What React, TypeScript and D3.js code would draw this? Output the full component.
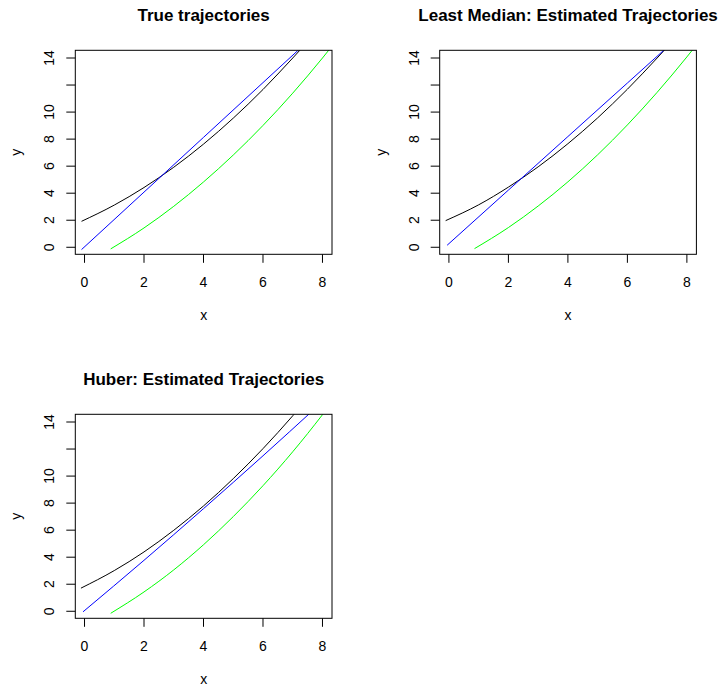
import React from 'react';
import * as d3 from 'd3';

// axis ticks (same for every panel)
const xTicks = [0, 2, 4, 6, 8];
const yTicks = [0, 2, 4, 6, 8, 10, 12, 14];
const yTickLabels = ['0', '2', '4', '6', '8', '10', '', '14'];

// True trajectories
const trueBlackX = [-0.1, 1, 2, 3, 4, 5, 6, 7, 7.5];
const trueBlackY = [1.92, 3.12, 4.42, 5.92, 7.63, 9.55, 11.67, 14.0, 15.2];
const trueBlueX = [-0.1, 2, 4, 6, 7.5];
const trueBlueY = [-0.17, 4.08, 8.13, 12.18, 15.22];
const trueGreenX = [0.88, 2, 3, 4, 5, 6, 7, 8, 8.5];
const trueGreenY = [-0.12, 1.43, 3.03, 4.83, 6.82, 9.01, 11.4, 14.0, 15.37];

// Least Median
const lmBlackX = [-0.11, 1, 2, 3, 4, 5, 6, 7, 7.5];
const lmBlackY = [1.97, 3.14, 4.45, 5.95, 7.66, 9.57, 11.69, 14.0, 15.2];
const lmBlueX = [-0.06, 2, 4, 6, 7.5];
const lmBlueY = [0.15, 4.23, 8.19, 12.15, 15.12];
const lmGreenX = [0.86, 2, 3, 4, 5, 6, 7, 8, 8.5];
const lmGreenY = [-0.1, 1.46, 3.05, 4.84, 6.84, 9.05, 11.46, 14.08, 15.46];

// Huber
const hbBlackX = [-0.12, 1, 2, 3, 4, 5, 6, 7, 7.3];
const hbBlackY = [1.71, 3.01, 4.39, 5.99, 7.79, 9.81, 12.03, 14.46, 15.23];
const hbBlueX = [-0.05, 2, 4, 6, 7.8];
const hbBlueY = [-0.04, 3.77, 7.59, 11.5, 15.1];
const hbGreenX = [0.88, 2, 3, 4, 5, 6, 7, 8, 8.3];
const hbGreenY = [-0.15, 1.43, 3.06, 4.92, 7.0, 9.29, 11.8, 14.54, 15.4];

const zip = (xs: number[], ys: number[]) => xs.map((x, i) => [x, ys[i]] as [number, number]);

const panels = [
  {
    id: 'p1', title: 'True trajectories', dx: 0, dy: 0,
    series: [
      { pts: zip(trueBlackX, trueBlackY), color: '#000000' },
      { pts: zip(trueBlueX, trueBlueY), color: '#0000ff' },
      { pts: zip(trueGreenX, trueGreenY), color: '#00ff00' },
    ],
  },
  {
    id: 'p2', title: 'Least Median: Estimated Trajectories', dx: 364.4, dy: 0,
    series: [
      { pts: zip(lmBlackX, lmBlackY), color: '#000000' },
      { pts: zip(lmBlueX, lmBlueY), color: '#0000ff' },
      { pts: zip(lmGreenX, lmGreenY), color: '#00ff00' },
    ],
  },
  {
    id: 'p3', title: 'Huber: Estimated Trajectories', dx: 0, dy: 364,
    series: [
      { pts: zip(hbBlackX, hbBlackY), color: '#000000' },
      { pts: zip(hbBlueX, hbBlueY), color: '#0000ff' },
      { pts: zip(hbGreenX, hbGreenY), color: '#00ff00' },
    ],
  },
];

const font = '"Liberation Sans", Arial, Helvetica, sans-serif';

const Panel = ({ p }: { p: any }) => {
  const left = 75.3 + p.dx, right = 332 + p.dx;
  const top = 50.3 + p.dy, bottom = 254.3 + p.dy;
  const x = d3.scaleLinear().domain([-0.31, 8.32]).range([left, right]);
  const y = d3.scaleLinear().domain([-0.52, 14.57]).range([bottom, top]);
  const line = d3.line<[number, number]>()
    .x(d => x(d[0]))
    .y(d => y(d[1]))
    .curve(d3.curveMonotoneX);
  const cx = (left + right) / 2, cy = (top + bottom) / 2;

  return (
    <g>
      <defs>
        <clipPath id={'clip-' + p.id}>
          <rect x={left} y={top} width={right - left} height={bottom - top} />
        </clipPath>
      </defs>
      <g clipPath={`url(#clip-${p.id})`}>
        {p.series.map((s: any, i: number) => (
          <path key={i} d={line(s.pts) || ''} fill="none" stroke={s.color} strokeWidth={1} />
        ))}
      </g>
      <rect x={left} y={top} width={right - left} height={bottom - top} fill="none" stroke="#000" strokeWidth={1} />

      {/* x axis */}
      {xTicks.map(t => (
        <g key={'x' + t}>
          <line x1={x(t)} x2={x(t)} y1={bottom} y2={bottom + 8.5} stroke="#000" />
          <text x={x(t)} y={bottom + 32.5} textAnchor="middle" fontSize={14} fontFamily={font}>{t}</text>
        </g>
      ))}
      {/* y axis */}
      {yTicks.map((t, i) => (
        <g key={'y' + t}>
          <line x1={left} x2={left - 9} y1={y(t)} y2={y(t)} stroke="#000" />
          <text transform={`translate(${left - 21},${y(t)}) rotate(-90)`} textAnchor="middle" fontSize={14} fontFamily={font}>
            {yTickLabels[i]}
          </text>
        </g>
      ))}

      <text x={cx} y={top - 29} textAnchor="middle" fontSize={17} fontWeight="bold" fontFamily={font}>{p.title}</text>
      <text x={cx} y={bottom + 66} textAnchor="middle" fontSize={14} fontFamily={font}>x</text>
      <text transform={`translate(${left - 54},${cy}) rotate(-90)`} textAnchor="middle" fontSize={14} fontFamily={font}>y</text>
    </g>
  );
};

export default function App() {
  return (
    <svg width={724} height={690} style={{ position: 'absolute', left: 0, top: 0, background: '#fff' }}>
      <rect width={724} height={690} fill="#fff" />
      {panels.map(p => <Panel key={p.id} p={p} />)}
    </svg>
  );
}
